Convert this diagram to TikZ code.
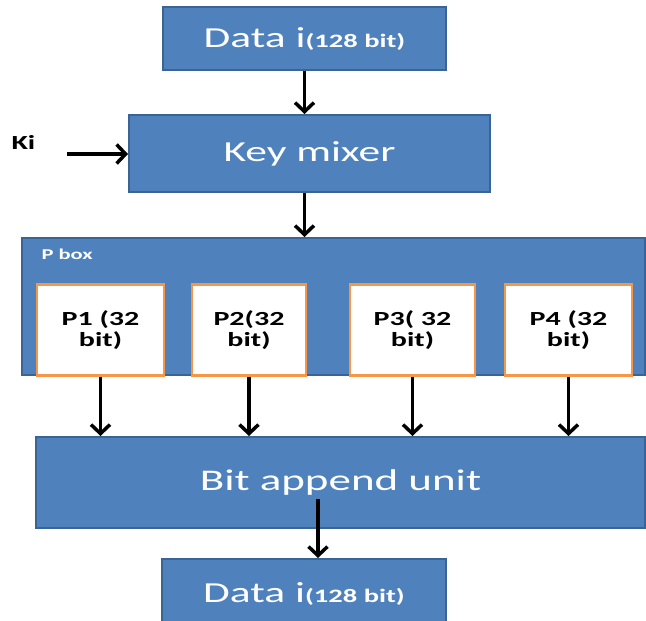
\documentclass[tikz,border=0pt]{standalone}
\usepackage{graphicx}
\usepackage{fontspec}
\setmainfont{Carlito}
\usetikzlibrary{arrows.meta}
\definecolor{boxblue}{HTML}{4F81BD}
\definecolor{boxedge}{HTML}{3A6494}
\definecolor{pedge}{HTML}{F79646}
% wide lettering used throughout the diagram
\newcommand{\wide}[1]{\scalebox{1.5}[1]{#1}}
\tikzset{
  bluebox/.style={rectangle, fill=boxblue, draw=boxedge, line width=2pt,
    text=white, inner sep=0pt, font=\fontsize{29}{32}\selectfont},
  permbox/.style={rectangle, fill=white, draw=pedge, line width=2.5pt,
    text=black, inner sep=0pt, align=center,
    font=\bfseries\fontsize{20}{21}\selectfont},
  flow/.style={line width=3.5pt, -{Straight Barb[length=9pt,width=19pt,line width=3.5pt]}},
}
\begin{document}
\begin{tikzpicture}[x=1pt,y=-1pt]
  \useasboundingbox (0,0) rectangle (646,621);
  \fill[white] (0,0) rectangle (646,621);
  \clip (0,0) rectangle (646,621);

  % input block and key mixing
  \node[bluebox, minimum width=283pt, minimum height=63pt] (din) at (304.5,38.5)
    {\wide{Data i{\bfseries\fontsize{19}{22}\selectfont(128 bit)}}};
  \node[bluebox, minimum width=361pt, minimum height=77pt] (mix) at (309.5,153.5)
    {\wide{Key mixer}};
  \node[font=\bfseries\fontsize{20}{22}\selectfont, anchor=west] (ki) at (8,142) {\wide{Ki}};
  \coordinate (kin) at (67,154);

  % permutation stage
  \node[bluebox, minimum width=623pt, minimum height=137pt] (pbox) at (333,306.5) {};
  \node[text=white, font=\bfseries\fontsize{15}{17}\selectfont, anchor=west] (plabel)
    at (38,254) {\wide{P box}};
  \node[permbox, minimum width=127pt, minimum height=91pt] (p1) at (100.5,330)
    {\wide{P1 (32}\\\wide{bit)}};
  \node[permbox, minimum width=114pt, minimum height=91pt] (p2) at (249,330)
    {\wide{P2(32}\\\wide{bit)}};
  \node[permbox, minimum width=125pt, minimum height=91pt] (p3) at (412.5,330)
    {\wide{P3( 32}\\\wide{bit)}};
  \node[permbox, minimum width=127pt, minimum height=91pt] (p4) at (568.5,330)
    {\wide{P4 (32}\\\wide{bit)}};

  % output stage
  \node[bluebox, minimum width=609pt, minimum height=91pt, font=\fontsize{30}{33}\selectfont]
    (app) at (340.5,482.5) {\wide{Bit append unit}};
  \node[bluebox, minimum width=284pt, minimum height=70pt] (dout) at (304,594)
    {\wide{Data i{\bfseries\fontsize{19}{22}\selectfont(128 bit)}}};
  \coordinate (appsrc) at (318,499);

  % connectors
  \draw[flow] (din.south) -- (mix.north -| din.south);
  \draw[flow] (kin) -- (kin -| mix.west);
  \draw[flow] (mix.south -| din.south) -- (pbox.north -| din.south);
  \foreach \p in {p1,p2,p3,p4}
    \draw[flow] (\p.south) -- (\p.south |- app.north);
  \draw[flow] (appsrc) -- (appsrc |- dout.north);
\end{tikzpicture}
\end{document}
